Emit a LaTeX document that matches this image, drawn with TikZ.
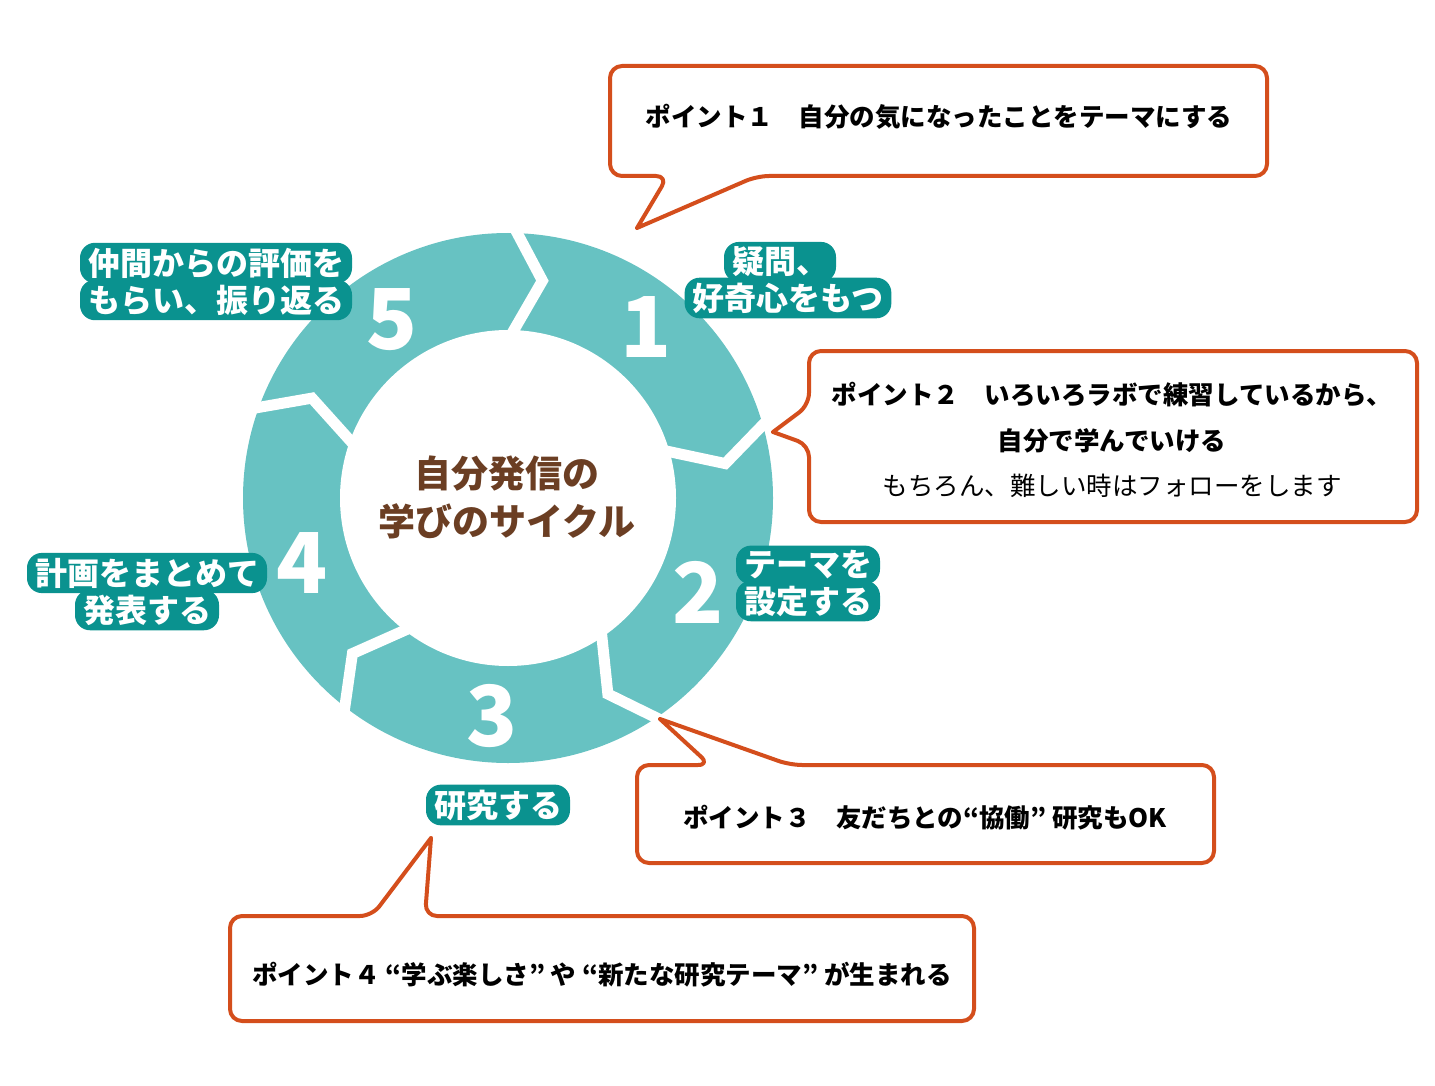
\documentclass[tikz,border=0pt]{standalone}
\usepackage{fontspec}
\setmainfont{Noto Sans CJK JP}
\usetikzlibrary{calc}
\definecolor{ringteal}{RGB}{103,194,194}
\definecolor{labteal}{RGB}{10,146,143}
\definecolor{brownt}{RGB}{107,62,35}
\definecolor{calloutor}{RGB}{212,78,28}
\begin{document}
\begin{tikzpicture}[x=1pt,y=-1pt,
  num/.style={text=white,font=\fontsize{84}{84}\selectfont\bfseries,inner sep=0pt},
  lab/.style={text=white,fill=labteal,rounded corners=15pt,font=\fontsize{32}{32}\selectfont\bfseries,inner xsep=8pt,inner ysep=5pt},
  callout/.style={draw=calloutor,line width=4pt,fill=white,rounded corners=12pt,line cap=round,line join=round},
  ctext/.style={font=\fontsize{25.5}{25.5}\selectfont\bfseries,text=black,inner sep=0pt},
  ctextreg/.style={font=\fontsize{25.5}{25.5}\selectfont,text=black,inner sep=0pt},
  gapline/.style={draw=white,line width=11pt,line join=miter}
]
\useasboundingbox (0,0) rectangle (1435,1086);
\coordinate (C) at (508,498);
% ring
\fill[ringteal] (C) circle[radius=265pt];
\fill[white] (C) circle[radius=168pt];
\foreach \b in {88,16,-56,-128,160} {
  \coordinate (T) at ($(C)+({\b-7}:220pt)$);
  \coordinate (O) at ($(C)+(\b:265pt)$);
  \coordinate (I) at ($(C)+(\b:168pt)$);
  \draw[gapline] ($(T)!1.4!(O)$) -- (T) -- ($(T)!1.4!(I)$);
}
% centre title
\node[text=brownt,font=\fontsize{37}{48}\selectfont\bfseries,align=center] (title) at (507,497) {自分発信の\\学びのサイクル};
% numbers
\node[num] (n1) at (646,327) {1};
\node[num] (n2) at (698,592) {2};
\node[num] (n3) at (492,716) {3};
\node[num] (n4) at (302,563) {4};
\node[num] (n5) at (392,320) {5};
% step labels
\node[lab] (l5a) at (216,263) {仲間からの評価を};
\node[lab] (l5b) at (216,300) {もらい、振り返る};
\node[lab] (l1a) at (780,262) {疑問、};
\node[lab] (l1b) at (788,298) {好奇心をもつ};
\node[lab] (l2a) at (808,565) {テーマを};
\node[lab] (l2b) at (808,601) {設定する};
\node[lab] (l3) at (498,805) {研究する};
\node[lab] (l4a) at (147,573) {計画をまとめて};
\node[lab] (l4b) at (147,610) {発表する};
% callouts
\draw[callout] (637,228) -- (757,176) -- (1267,176) -- (1267,66) -- (610,66) -- (610,176) -- (668,176) -- (637,228);
\node[ctext] (c1) at (939,117) {ポイント１　自分の気になったことをテーマにする};

\draw[callout] (773,432) -- (809,445) -- (809,522) -- (1417,522) -- (1417,351) -- (809,351) -- (809,405) -- (773,432);
\node[ctext] (c2a) at (1112,395) {ポイント２　いろいろラボで練習しているから、};
\node[ctext] (c2b) at (1112,441) {自分で学んでいける};
\node[ctextreg] (c2c) at (1112,486) {もちろん、難しい時はフォローをします};

\draw[callout] (660,719) -- (710,765) -- (637,765) -- (637,863) -- (1214,863) -- (1214,765) -- (790,765) -- (660,719);
\node[ctext] (c3) at (925,818) {ポイント３　友だちとの“協働” 研究もOK};

\draw[callout] (431,838) -- (425,916) -- (974,916) -- (974,1021) -- (230,1021) -- (230,916) -- (372,916) -- (431,838);
\node[ctext] (c4) at (602,975) {ポイント４ “学ぶ楽しさ” や “新たな研究テーマ” が生まれる};
\end{tikzpicture}
\end{document}
